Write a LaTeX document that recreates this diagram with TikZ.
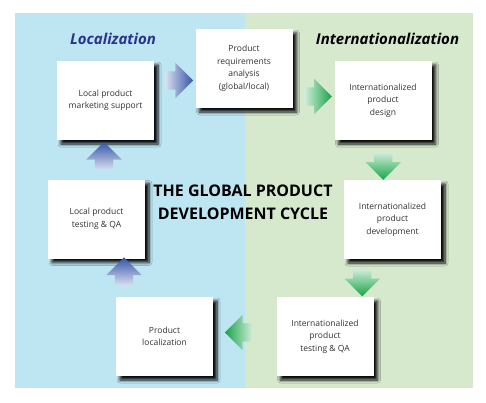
\documentclass[tikz,border=0pt]{standalone}
\usepackage{fontspec}
\setmainfont{Open Sans}
\usetikzlibrary{calc,shapes.arrows,shadows.blur}

\definecolor{locbg}{RGB}{190,229,242}
\definecolor{intbg}{RGB}{214,233,204}
\definecolor{loctitle}{RGB}{40,52,140}
\definecolor{locarrow}{RGB}{52,84,168}
\definecolor{intarrow}{RGB}{24,164,72}
\definecolor{boxtext}{RGB}{50,50,50}

\tikzset{
	stage/.style={fill=white, minimum width=97pt, minimum height=79pt, inner sep=2pt, align=center, text=boxtext,
		font=\fontsize{8.5}{12.5}\selectfont,
		blur shadow={shadow xshift=4pt, shadow yshift=-4pt, shadow blur steps=6, shadow blur radius=3pt, shadow opacity=95}},
	flow/.style={single arrow, minimum height=27pt, single arrow head extend=8.5pt, inner sep=9pt},
	locflow/.style={flow, shape border rotate=90, bottom color=locarrow!20, top color=locarrow},
	intflow/.style={flow, shape border rotate=270, top color=intarrow!20, bottom color=intarrow},
	sidetitle/.style={font=\fontsize{15}{18}\selectfont\bfseries\itshape}
}

\begin{document}
\begin{tikzpicture}[x=1pt, y=-1pt]
	\useasboundingbox (0,0) rectangle (486,402);
		%backgrounds
			\fill[locbg] (15,13) rectangle (244.5,388);
			\fill[intbg] (244.5,13) rectangle (473,388);
		%side titles
			\node[sidetitle, text=loctitle] (loc) at (113,39) {Localization};
			\node[sidetitle] (intl) at (387.5,39) {Internationalization};
		%cycle title
			\node[font=\fontsize{16}{23}\selectfont\bfseries, align=center] (cycle) at (243,202) {THE GLOBAL PRODUCT\\DEVELOPMENT CYCLE};
		%stages
			\node[stage] (market) at (105.5,100.5) {Local product\\marketing support};
			\node[stage] (req) at (244,68.5) {Product\\requirements\\analysis\\(global/local)};
			\node[stage] (design) at (383,100.5) {Internationalized\\product\\design};
			\node[stage] (dev) at (392.5,219.5) {Internationalized\\product\\development};
			\node[stage] (itest) at (325,336.5) {Internationalized\\product\\testing \& QA};
			\node[stage] (l10n) at (164.5,336.5) {Product\\localization};
			\node[stage] (ltest) at (96.5,219) {Local product\\testing \& QA};
		%arrows
			\node[flow, left color=locarrow!20, right color=locarrow] (a1) at ($(market.east)!0.5!(req.west)+(0,-4)$) {};
			\node[flow, left color=intarrow!20, right color=intarrow] (a2) at ($(req.east)!0.5!(design.west)+(0,12)$) {};
			\node[intflow] (a3) at ($(design.south)!0.5!(dev.north)+(-4.5,1.5)$) {};
			\node[intflow] (a4) at ($(dev.south)!0.5!(itest.north)+(3.5,0)$) {};
			\node[flow, shape border rotate=180, left color=intarrow, right color=intarrow!20] (a5) at ($(itest.west)!0.5!(l10n.east)+(-1.5,-4)$) {};
			\node[locflow] (a6) at ($(l10n.north)!0.5!(ltest.south)+(-6.5,-2)$) {};
			\node[locflow] (a7) at ($(ltest.north)!0.5!(market.south)+(3,0.5)$) {};
\end{tikzpicture}
\end{document}
